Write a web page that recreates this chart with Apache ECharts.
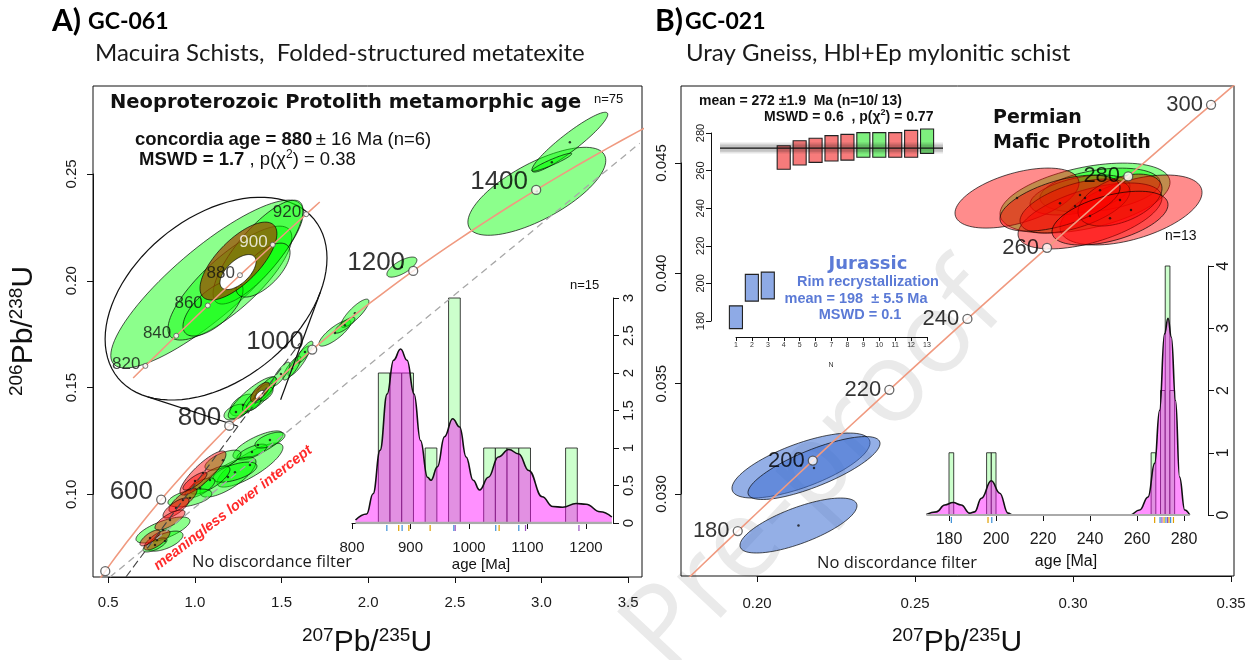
<!DOCTYPE html>
<html>
<head>
<meta charset="utf-8">
<script src="https://cdn.jsdelivr.net/npm/echarts@6.0.0/dist/echarts.min.js"></script>
<style>
html,body{margin:0;padding:0;background:#fff;}
#chart{width:1258px;height:660px;}
</style>
</head>
<body>
<div id="chart"></div>
<script>
// ================= DATA =================
// decay constants (1/yr) used by the concordia curve
const L238 = 1.55125e-10, L235 = 9.8485e-10;

// ---- Panel A (GC-061) ----
const CONC_AGES_A = [380,400,420,440,460,480,500,520,540,560,580,600,620,640,660,680,700,720,740,760,780,800,820,840,860,880,900,920,940,960,980,1000,1020,1040,1060,1080,1100,1120,1140,1160,1180,1200,1220,1240,1260,1280,1300,1320,1340,1360,1380,1400,1420,1440,1460,1480,1500,1520,1540,1560];
const CONC_TICKS_A = [400,600,800,1000,1200,1400];
// error ellipses: [207Pb/235U, 206Pb/238U, half-width x, half-width y, rho, colour code]
// colour code: 0 green, 1 red, 2 blue, 3 brown, 4 white
const ELLIPSES_A = [
  [2.974, 0.2419, 0.398, 0.0206, 0.70, 0],
  [3.1645, 0.2649, 0.219, 0.0140, 0.93, 0],
  [3.0606, 0.2555, 0.115, 0.0042, 0.94, 0],
  [2.195, 0.2064, 0.0866, 0.0047, 0.70, 0],
  [1.8084, 0.1755, 0.0923, 0.0061, 0.82, 0],
  [1.9238, 0.1848, 0.0808, 0.0066, 0.84, 0],
  [1.866, 0.1792, 0.0577, 0.0037, 0.82, 0],
  [1.6007, 0.1624, 0.0635, 0.0070, 0.86, 0],
  [1.5603, 0.1591, 0.052, 0.0056, 0.82, 0],
  [1.6353, 0.1666, 0.046, 0.0051, 0.82, 0],
  [1.4968, 0.1563, 0.052, 0.0056, 0.82, 0],
  [1.2776, 0.1418, 0.075, 0.0051, 0.50, 0],
  [1.2372, 0.1385, 0.069, 0.0037, 0.45, 0],
  [1.318, 0.1137, 0.1904, 0.0103, 0.80, 0],
  [1.3641, 0.1231, 0.1443, 0.0066, 0.75, 0],
  [1.3295, 0.1198, 0.0866, 0.0037, 0.70, 0],
  [1.191, 0.1081, 0.1616, 0.0094, 0.75, 0],
  [1.2314, 0.1104, 0.127, 0.0047, 0.60, 0],
  [1.1621, 0.1160, 0.1039, 0.0047, 0.65, 0],
  [1.4334, 0.1254, 0.0866, 0.0037, 0.60, 0],
  [1.0871, 0.1067, 0.1154, 0.0066, 0.75, 0],
  [1.0294, 0.1030, 0.0866, 0.0047, 0.70, 0],
  [0.9717, 0.0983, 0.127, 0.0042, 0.50, 0],
  [0.8159, 0.0833, 0.1558, 0.0061, 0.70, 0],
  [0.8275, 0.0781, 0.1039, 0.0047, 0.60, 0],
  [0.7698, 0.0763, 0.0692, 0.0033, 0.70, 0],
  [1.0467, 0.1100, 0.1327, 0.0103, 0.85, 1],
  [1.0006, 0.1062, 0.0692, 0.0042, 0.80, 1],
  [0.9313, 0.0973, 0.0808, 0.0056, 0.80, 1],
  [0.891, 0.0936, 0.075, 0.0047, 0.75, 1],
  [0.8563, 0.0880, 0.0866, 0.0047, 0.75, 1],
  [0.7813, 0.0786, 0.075, 0.0047, 0.75, 1],
  [0.7409, 0.0796, 0.0577, 0.0037, 0.75, 1]
];
// the concordant Neoproterozoic group (also shown enlarged)
const ELLIPSES_A_880 = [
  [1.3315, 0.14523, 0.1389, 0.00983, 0.85, 0],
  [1.3645, 0.14534, 0.0894, 0.00667, 0.80, 0],
  [1.4051, 0.14897, 0.0649, 0.00608, 0.80, 0],
  [1.3401, 0.14242, 0.0433, 0.00328, 0.65, 0],
  [1.4123, 0.14686, 0.0390, 0.00316, 0.65, 0],
  [1.3768, 0.14792, 0.0555, 0.00456, 0.70, 3],
  [1.3762, 0.14663, 0.0260, 0.00205, 0.60, 4]
];
const HULL_A = [1.3445, 0.14352, 0.1601, 0.01187, 0.40];
const ZOOM_AGES = [812,820,828,836,844,852,860,868,876,884,892,900,908,916,924,928];
const ZOOM_TICKS = [820,840,860,880,900,920];
const DISC_GREY = [[0.51, 0.0613], [3.568, 0.2644]];
const DISC_DARK = [[0.602, 0.0613], [1.606, 0.1708]];
// inset KDE + histogram (age in Ma)
const HIST_A_START = [845,865,885,925,965,1025,1045,1065,1085,1165];
const HIST_A_COUNT = [2,2,2,1,3,1,1,1,1,1];
const HIST_A_WIDTH = 20;
const KDE_A = [[806,0.04],[825,0.12],[836,0.39],[848,0.97],[860,1.72],[871,2.17],[883,2.32],[894,2.17],[906,1.72],[917,1.10],[929,0.61],[935,0.57],[946,0.75],[958,1.15],[972,1.39],[984,1.28],[995,0.88],[1007,0.57],[1018,0.44],[1033,0.61],[1050,0.88],[1068,0.98],[1085,0.92],[1102,0.70],[1125,0.35],[1143,0.22],[1160,0.21],[1183,0.26],[1200,0.25],[1224,0.15],[1244,0.08]];
const RUG_A = [859.5,879.8,885.6,897.1,933.5,974,976.3,1045.6,1051.4,1085,1096.5,1187.8];
const RUG_A_COLORS = ['#3a8fd8','#e0a000','#3a8fd8','#e0a000','#e0a000','#3a8fd8','#9a50c0','#3a8fd8','#e0a000','#3a8fd8','#9a50c0','#9a50c0'];

// ---- Panel B (GC-021) ----
const CONC_AGES_B = [165,170,175,180,185,190,195,200,205,210,215,220,225,230,235,240,245,250,255,260,265,270,275,280,285,290,295,300,305,310];
const CONC_TICKS_B = [180,200,220,240,260,280,300];
const ELLIPSES_B = [
  [0.21397, 0.031287, 0.02184, 0.001473, 0.70, 2],
  [0.21809, 0.031174, 0.02089, 0.001427, 0.78, 2],
  [0.21318, 0.028568, 0.01851, 0.001246, 0.72, 2],
  [0.30385, 0.04341, 0.0269, 0.001586, 0.45, 0],
  [0.3086, 0.04377, 0.019, 0.000997, 0.35, 0],
  [0.30227, 0.04355, 0.0158, 0.000906, 0.45, 0],
  [0.28233, 0.04341, 0.01962, 0.00136, 0.50, 1],
  [0.31841, 0.04287, 0.02247, 0.001586, 0.50, 1],
  [0.30543, 0.0426, 0.02278, 0.001495, 0.55, 1],
  [0.30068, 0.04305, 0.0174, 0.001224, 0.55, 1],
  [0.31492, 0.04332, 0.01329, 0.001178, 0.45, 1],
  [0.29594, 0.04318, 0.019, 0.00127, 0.55, 1],
  [0.31176, 0.0425, 0.01835, 0.00122, 0.50, 1]
];
// weighted-mean plot (Ma)
const WM_LO = [176.0,190.6,191.8,260.7,263.0,264.4,265.1,265.6,267.1,267.1,267.1,267.1,269.2];
const WM_HI = [188.1,204.8,206.0,273.2,275.9,277.2,278.6,279.3,280.2,280.2,280.2,281.4,282.1];
const WM_COL = [2,2,2,1,1,1,1,1,0,0,1,1,0];
const WM_MEAN = 272, WM_ERR = 1.9, WM_ERR_OUTER = 2.9;
// inset KDE + histogram
const HIST_B_START = [180,196,198,266,270,272,274];
const HIST_B_COUNT = [1,1,1,1,2,4,2];
const HIST_B_WIDTH = 2;
const KDE_B = [[170.4,0.01],[174.6,0.05],[178.2,0.16],[181.7,0.20],[185.2,0.16],[188.8,0.03],[190.9,0.05],[193.8,0.27],[198.0,0.55],[201.6,0.35],[205.1,0.03],[207.2,0],[257,0],[261.1,0.08],[264.7,0.29],[267.5,0.83],[269.6,1.68],[271.7,2.91],[273.2,3.16],[274.6,2.86],[276.4,1.84],[278.1,0.61],[280.3,0.08],[282.4,0]];
const RUG_B = [181,196.6,198.2,267.5,269.8,270.6,271.5,272.3,273,273.6,274.3,275.5];
const RUG_B_COLORS = ['#3a8fd8','#e0a000','#3a8fd8','#e0a000','#3a8fd8','#9a50c0','#e0a000','#3a8fd8','#9a50c0','#e0a000','#3a8fd8','#e0a000'];

// ================= HELPERS =================
const FONT = '"Liberation Sans", Arial, Helvetica, sans-serif';
const NARROW = '"Liberation Sans Narrow", "Liberation Sans", Arial, sans-serif';
const VERD = '"DejaVu Sans", Verdana, sans-serif';
const CAL = 'Lato, "Open Sans", sans-serif';
const FILLS = ['rgba(0,255,0,0.45)','rgba(255,0,0,0.45)','rgba(60,110,210,0.55)','rgba(160,70,0,0.72)','#ffffff'];
const WM_FILLS = ['#7ef07e','#f77b7b','#8eaae6'];

function conc(t) { return [Math.expm1(L235 * t * 1e6), Math.expm1(L238 * t * 1e6)]; }
// enlargement of the 880 Ma group
const MAG_K = 4;
const MAG_FROM = conc(880);
const MAG_TO = [1.2602, 0.20262];
function magnify(x, y) { return [MAG_TO[0] + MAG_K * (x - MAG_FROM[0]), MAG_TO[1] + MAG_K * (y - MAG_FROM[1])]; }

function ellipsePoints(api, x, y, sx, sy, r, tf) {
  const q = Math.sqrt(Math.max(0, 1 - r * r));
  const pts = [];
  for (let i = 0; i < 90; i++) {
    const t = i / 90 * 2 * Math.PI;
    let px = x + sx * Math.cos(t);
    let py = y + sy * (r * Math.cos(t) + q * Math.sin(t));
    if (tf) { const m = tf(px, py); px = m[0]; py = m[1]; }
    pts.push(api.coord([px, py]));
  }
  return pts;
}
function ellipseRenderer(tf) {
  return function (params, api) {
    const pts = ellipsePoints(api, api.value(0), api.value(1), api.value(2), api.value(3), api.value(4), tf);
    return { type: 'polygon', shape: { points: pts }, style: { fill: FILLS[api.value(5)], stroke: 'rgba(0,0,0,0.85)', lineWidth: 0.8 } };
  };
}
function histRenderer(width) {
  return function (params, api) {
    const p0 = api.coord([api.value(0), 0]);
    const p1 = api.coord([api.value(0) + width, api.value(1)]);
    return { type: 'rect', shape: { x: p0[0], y: p1[1], width: p1[0] - p0[0], height: p0[1] - p1[1] },
      style: { fill: '#ccffcc', stroke: '#111', lineWidth: 0.8 } };
  };
}
function rugRenderer(colors) {
  return function (params, api) {
    const p = api.coord([api.value(0), 0]);
    return { type: 'line', shape: { x1: p[0], y1: p[1] + 2, x2: p[0], y2: p[1] + 8 },
      style: { stroke: colors[params.dataIndex % colors.length], lineWidth: 1.2 } };
  };
}
function hiddenAxis(grid, min, max) { return { type: 'value', gridIndex: grid, min: min, max: max, show: false, splitLine: { show: false } }; }
function rAxis(o) {
  return Object.assign({
    type: 'value', splitLine: { show: false },
    axisLine: { show: true, lineStyle: { color: '#111', width: 1 } },
    axisTick: { show: true, length: 6, lineStyle: { color: '#111', width: 1 } },
    axisLabel: { fontFamily: FONT, fontSize: 15, color: '#1a1a1a' }
  }, o);
}
const plain = v => String(v);

// ================= OPTION =================
const option = {
  animation: false,
  backgroundColor: '#fff',
  grid: [
    { left: 93, top: 86, width: 549, height: 491, show: true, borderColor: '#111', borderWidth: 1 },   // 0 A main
    { left: 108.25, top: 174, width: 519.9, height: 320.3 },                                            // 1 A axes
    { left: 349.1, top: 298, width: 263.9, height: 225 },                                               // 2 A inset
    { left: 352, top: 298, width: 234, height: 225 },                                                   // 3 A inset x axis
    { left: 681, top: 86, width: 553, height: 490, show: true, borderColor: '#111', borderWidth: 1 },  // 4 B main
    { left: 757, top: 163, width: 474, height: 331 },                                                   // 5 B axes
    { left: 720, top: 125.5, width: 223, height: 210.6 },                                               // 6 B weighted mean
    { left: 736, top: 133, width: 191, height: 188 },                                                   // 7 B weighted mean axes
    { left: 920.8, top: 266, width: 287.2, height: 249 },                                               // 8 B inset
    { left: 949, top: 266, width: 235, height: 249 }                                                    // 9 B inset x axis
  ],
  xAxis: [
    hiddenAxis(0, 0.412, 3.581),
    rAxis({ gridIndex: 1, min: 0.5, max: 3.5, interval: 0.5, offset: 82.7, axisLabel: { fontFamily: FONT, fontSize: 15, color: '#1a1a1a', margin: 18, formatter: v => v.toFixed(1) } }),
    hiddenAxis(2, 795, 1246),
    rAxis({ gridIndex: 3, min: 800, max: 1200, interval: 100, offset: 10, axisLabel: { fontFamily: FONT, fontSize: 15, color: '#1a1a1a', margin: 7, formatter: plain } }),
    hiddenAxis(4, 0.176, 0.351),
    rAxis({ gridIndex: 5, min: 0.20, max: 0.35, interval: 0.05, offset: 82, axisLabel: { fontFamily: FONT, fontSize: 15, color: '#1a1a1a', margin: 20, formatter: v => v.toFixed(2) } }),
    hiddenAxis(6, 0, 14),
    rAxis({ gridIndex: 7, min: 1, max: 13, interval: 1, offset: 16, axisTick: { length: 4, lineStyle: { color: '#111' } }, axisLabel: { fontFamily: FONT, fontSize: 7, color: '#333', margin: 5, formatter: plain } }),
    hiddenAxis(8, 168, 290.2),
    rAxis({ gridIndex: 9, min: 180, max: 280, interval: 20, offset: 11, axisLabel: { fontFamily: FONT, fontSize: 16, color: '#1a1a1a', margin: 6, formatter: plain } })
  ],
  yAxis: [
    hiddenAxis(0, 0.0613, 0.2912),
    rAxis({ gridIndex: 1, min: 0.10, max: 0.25, interval: 0.05, offset: 15.25, axisLabel: { fontFamily: FONT, fontSize: 15, color: '#1a1a1a', rotate: 90, margin: 14, formatter: v => v.toFixed(2) } }),
    rAxis({ gridIndex: 2, min: 0, max: 3, interval: 0.5, position: 'right', axisLabel: { fontFamily: FONT, fontSize: 15, color: '#1a1a1a', rotate: 90, margin: 8, formatter: plain } }),
    hiddenAxis(3, 0, 1),
    hiddenAxis(4, 0.02628, 0.04849),
    rAxis({ gridIndex: 5, min: 0.030, max: 0.045, interval: 0.005, offset: 76, axisLabel: { fontFamily: FONT, fontSize: 15, color: '#1a1a1a', rotate: 90, margin: 12, formatter: v => v.toFixed(3) } }),
    hiddenAxis(6, 172, 284),
    rAxis({ gridIndex: 7, min: 180, max: 280, interval: 20, offset: 25, axisTick: { length: 5, lineStyle: { color: '#111' } }, axisLabel: { fontFamily: FONT, fontSize: 11, color: '#1a1a1a', rotate: 90, margin: 5, formatter: plain } }),
    rAxis({ gridIndex: 8, min: 0, max: 4, interval: 1, position: 'right', axisLabel: { fontFamily: FONT, fontSize: 16, color: '#1a1a1a', rotate: 90, margin: 8, formatter: plain } }),
    hiddenAxis(9, 0, 1)
  ],
  series: [
    // ---------- Panel A ----------
    { type: 'custom', xAxisIndex: 0, yAxisIndex: 0, z: 2, clip: true, renderItem: ellipseRenderer(null), data: ELLIPSES_A.concat(ELLIPSES_A_880) },
    { type: 'scatter', xAxisIndex: 0, yAxisIndex: 0, z: 3, symbolSize: 2.5, itemStyle: { color: '#111' }, data: ELLIPSES_A.map(e => [e[0], e[1]]) },
    { type: 'line', xAxisIndex: 0, yAxisIndex: 0, z: 4, symbol: 'none', clip: true, lineStyle: { color: '#f09a80', width: 1.6 }, data: CONC_AGES_A.map(conc) },
    { type: 'line', xAxisIndex: 0, yAxisIndex: 0, z: 4, symbol: 'none', lineStyle: { color: '#a8a8a8', width: 1.3, type: [7, 5] }, data: DISC_GREY },
    { type: 'line', xAxisIndex: 0, yAxisIndex: 0, z: 4, symbol: 'none', lineStyle: { color: '#444', width: 1.1, type: [8, 4] }, data: DISC_DARK },
    { type: 'scatter', xAxisIndex: 0, yAxisIndex: 0, z: 5, symbol: 'circle', symbolSize: 9,
      itemStyle: { color: '#fff', borderColor: '#444', borderWidth: 1.3 },
      label: { show: true, position: 'left', distance: 3, offset: [0, -8], fontFamily: FONT, fontSize: 26, color: '#000', formatter: p => p.name },
      data: CONC_TICKS_A.map(t => ({ name: String(t), value: conc(t), label: { show: t >= 600 } })) },
    // enlargement outline
    { type: 'custom', xAxisIndex: 0, yAxisIndex: 0, z: 5, data: [[HULL_A[0], HULL_A[1]]],
      renderItem: function (params, api) {
        const e = HULL_A;
        const pts = ellipsePoints(api, e[0], e[1], e[2], e[3], e[4], magnify);
        const hd = [(MAG_TO[0] - MAG_K * MAG_FROM[0]) / (1 - MAG_K), (MAG_TO[1] - MAG_K * MAG_FROM[1]) / (1 - MAG_K)];
        const H = api.coord(hd);
        const c = api.coord(magnify(e[0], e[1]));
        const base = Math.atan2(c[1] - H[1], c[0] - H[0]);
        let mn = Infinity, mx = -Infinity, pmn = pts[0], pmx = pts[0];
        pts.forEach(p => {
          let a = Math.atan2(p[1] - H[1], p[0] - H[0]) - base;
          while (a > Math.PI) a -= 2 * Math.PI;
          while (a < -Math.PI) a += 2 * Math.PI;
          if (a < mn) { mn = a; pmn = p; }
          if (a > mx) { mx = a; pmx = p; }
        });
        const sm = p => [H[0] + (p[0] - H[0]) / MAG_K, H[1] + (p[1] - H[1]) / MAG_K];
        const a1 = sm(pmn), a2 = sm(pmx);
        return { type: 'group', children: [
          { type: 'polygon', shape: { points: pts }, style: { fill: 'none', stroke: '#111', lineWidth: 1.2 } },
          { type: 'line', shape: { x1: pmn[0], y1: pmn[1], x2: a1[0], y2: a1[1] }, style: { stroke: '#111', lineWidth: 1.2 } },
          { type: 'line', shape: { x1: pmx[0], y1: pmx[1], x2: a2[0], y2: a2[1] }, style: { stroke: '#111', lineWidth: 1.2 } }
        ] };
      } },
    { type: 'custom', xAxisIndex: 0, yAxisIndex: 0, z: 6, renderItem: ellipseRenderer(magnify), data: ELLIPSES_A_880 },
    { type: 'line', xAxisIndex: 0, yAxisIndex: 0, z: 7, symbol: 'none', lineStyle: { color: '#f09a80', width: 1.5 },
      data: ZOOM_AGES.map(t => { const p = conc(t); return magnify(p[0], p[1]); }) },
    { type: 'scatter', xAxisIndex: 0, yAxisIndex: 0, z: 8, symbol: 'circle', symbolSize: 5,
      itemStyle: { color: '#fff', borderColor: '#555', borderWidth: 1 },
      label: { show: true, position: 'left', distance: 2, offset: [0, -2], fontFamily: FONT, fontSize: 17, color: '#111', formatter: p => p.name },
      data: ZOOM_TICKS.map(t => { const p = conc(t); return { name: String(t), value: magnify(p[0], p[1]), label: t === 900 ? { color: '#fff' } : {} }; }) },
    // inset A
    { type: 'custom', xAxisIndex: 2, yAxisIndex: 2, z: 2, renderItem: histRenderer(HIST_A_WIDTH), data: HIST_A_START.map((s, i) => [s, HIST_A_COUNT[i]]) },
    { type: 'line', xAxisIndex: 2, yAxisIndex: 2, z: 3, symbol: 'none', smooth: 0.45, smoothMonotone: 'x',
      lineStyle: { color: '#111', width: 1.6 }, areaStyle: { color: 'rgba(255,0,255,0.62)', origin: 'start' }, data: KDE_A },
    { type: 'line', xAxisIndex: 2, yAxisIndex: 2, z: 4, symbol: 'none', lineStyle: { color: '#aaa', width: 2.5 }, data: [[KDE_A[0][0], 0], [KDE_A[KDE_A.length - 1][0], 0]] },
    { type: 'custom', xAxisIndex: 2, yAxisIndex: 2, z: 4, renderItem: rugRenderer(RUG_A_COLORS), data: RUG_A.map(a => [a, 0]) },

    // ---------- Panel B ----------
    { type: 'custom', xAxisIndex: 4, yAxisIndex: 4, z: 2, clip: true, renderItem: ellipseRenderer(null), data: ELLIPSES_B },
    { type: 'scatter', xAxisIndex: 4, yAxisIndex: 4, z: 3, symbolSize: 2.5, itemStyle: { color: '#111' }, data: ELLIPSES_B.map(e => [e[0], e[1]]) },
    { type: 'line', xAxisIndex: 4, yAxisIndex: 4, z: 4, symbol: 'none', clip: true, lineStyle: { color: '#f09a80', width: 1.6 }, data: CONC_AGES_B.map(conc) },
    { type: 'scatter', xAxisIndex: 4, yAxisIndex: 4, z: 5, symbol: 'circle', symbolSize: 9,
      itemStyle: { color: '#fff', borderColor: '#444', borderWidth: 1.3 },
      label: { show: true, position: 'left', distance: 3, offset: [0, 0], fontFamily: FONT, fontSize: 22, color: '#000', formatter: p => p.name },
      data: CONC_TICKS_B.map(t => ({ name: String(t), value: conc(t) })) },
    // weighted mean
    { type: 'custom', xAxisIndex: 6, yAxisIndex: 6, z: 2, data: WM_LO.map((lo, i) => [i + 1, lo, WM_HI[i], WM_COL[i]]),
      renderItem: function (params, api) {
        const a = api.coord([api.value(0) - 0.41, api.value(2)]);
        const b = api.coord([api.value(0) + 0.41, api.value(1)]);
        return { type: 'rect', shape: { x: a[0], y: a[1], width: b[0] - a[0], height: b[1] - a[1] },
          style: { fill: WM_FILLS[api.value(3)], stroke: '#222', lineWidth: 1.1 } };
      } },
    { type: 'custom', xAxisIndex: 6, yAxisIndex: 6, z: 3, data: [[WM_MEAN, WM_ERR, WM_ERR_OUTER]],
      renderItem: function (params, api) {
        const m = api.value(0), e1 = api.value(1), e2 = api.value(2);
        const o1 = api.coord([0, m + e2]), o2 = api.coord([14, m - e2]);
        const i1 = api.coord([0, m + e1]), i2 = api.coord([14, m - e1]);
        const l1 = api.coord([0, m]), l2 = api.coord([14, m]);
        return { type: 'group', children: [
          { type: 'rect', shape: { x: o1[0], y: o1[1], width: o2[0] - o1[0], height: o2[1] - o1[1] }, style: { fill: 'rgba(0,0,0,0.10)' } },
          { type: 'rect', shape: { x: i1[0], y: i1[1], width: i2[0] - i1[0], height: i2[1] - i1[1] }, style: { fill: 'rgba(0,0,0,0.14)' } },
          { type: 'line', shape: { x1: l1[0], y1: l1[1], x2: l2[0], y2: l2[1] }, style: { stroke: '#111', lineWidth: 1.3 } }
        ] };
      } },
    // inset B
    { type: 'custom', xAxisIndex: 8, yAxisIndex: 8, z: 2, renderItem: histRenderer(HIST_B_WIDTH), data: HIST_B_START.map((s, i) => [s, HIST_B_COUNT[i]]) },
    { type: 'line', xAxisIndex: 8, yAxisIndex: 8, z: 3, symbol: 'none', smooth: 0.45, smoothMonotone: 'x',
      lineStyle: { color: '#111', width: 1.6 }, areaStyle: { color: 'rgba(255,0,255,0.62)', origin: 'start' }, data: KDE_B },
    { type: 'line', xAxisIndex: 8, yAxisIndex: 8, z: 4, symbol: 'none', lineStyle: { color: '#aaa', width: 2 }, data: [[KDE_B[0][0], 0], [KDE_B[KDE_B.length - 1][0], 0]] },
    { type: 'custom', xAxisIndex: 8, yAxisIndex: 8, z: 4, renderItem: rugRenderer(RUG_B_COLORS), data: RUG_B.map(a => [a, 0]) }
  ],
  graphic: { elements: [
    // watermark
    { type: 'text', x: 815, y: 470, rotation: 0.82, z: -10, silent: true,
      style: { text: 'Pre-proof', fontFamily: '"Open Sans", sans-serif', fontSize: 112, fill: '#eaeaea', align: 'center', verticalAlign: 'middle' } },
    // panel titles
    { type: 'text', x: 52, y: 21, style: { text: 'A)', fontFamily: CAL, fontWeight: 'bold', fontSize: 30, fill: '#000', align: 'left', verticalAlign: 'middle' } },
    { type: 'text', x: 88, y: 22, style: { text: 'GC-061', fontFamily: CAL, fontWeight: 'bold', fontSize: 23, fill: '#000', align: 'left', verticalAlign: 'middle' } },
    { type: 'text', x: 95, y: 53, style: { text: 'Macuira Schists,  Folded-structured metatexite', fontFamily: CAL, fontSize: 24, fill: '#1a1a1a', align: 'left', verticalAlign: 'middle' } },
    { type: 'text', x: 655, y: 21, style: { text: 'B)', fontFamily: CAL, fontWeight: 'bold', fontSize: 30, fill: '#000', align: 'left', verticalAlign: 'middle' } },
    { type: 'text', x: 685, y: 22, style: { text: 'GC-021', fontFamily: CAL, fontWeight: 'bold', fontSize: 23, fill: '#000', align: 'left', verticalAlign: 'middle' } },
    { type: 'text', x: 686, y: 53, style: { text: 'Uray Gneiss, Hbl+Ep mylonitic schist', fontFamily: CAL, fontSize: 24, fill: '#1a1a1a', align: 'left', verticalAlign: 'middle' } },
    // axis titles
    { type: 'text', x: 367, y: 643, style: { text: '{s|207}{b|Pb/}{s|235}{b|U}', align: 'center', verticalAlign: 'middle',
      rich: { s: { fontFamily: FONT, fontSize: 19, fill: '#111', verticalAlign: 'top', lineHeight: 19 }, b: { fontFamily: FONT, fontSize: 30, fill: '#111', lineHeight: 34 } } } },
    { type: 'text', x: 957, y: 643, style: { text: '{s|207}{b|Pb/}{s|235}{b|U}', align: 'center', verticalAlign: 'middle',
      rich: { s: { fontFamily: FONT, fontSize: 19, fill: '#111', verticalAlign: 'top', lineHeight: 19 }, b: { fontFamily: FONT, fontSize: 30, fill: '#111', lineHeight: 34 } } } },
    { type: 'text', x: 24, y: 331, rotation: Math.PI / 2, style: { text: '{s|206}{b|Pb/}{s|238}{b|U}', align: 'center', verticalAlign: 'middle',
      rich: { s: { fontFamily: FONT, fontSize: 19, fill: '#111', verticalAlign: 'top', lineHeight: 19 }, b: { fontFamily: FONT, fontSize: 30, fill: '#111', lineHeight: 34 } } } },
    // panel A annotations
    { type: 'text', x: 110, y: 103, style: { text: 'Neoproterozoic Protolith metamorphic age', fontFamily: VERD, fontWeight: 'bold', fontSize: 19.5, fill: '#111', align: 'left', verticalAlign: 'middle' } },
    { type: 'text', x: 594, y: 99, style: { text: 'n=75', fontFamily: FONT, fontSize: 13, fill: '#111', align: 'left', verticalAlign: 'middle' } },
    { type: 'text', x: 135, y: 140, style: { text: '{b|concordia age = 880} {n|± 16 Ma (n=6)}', align: 'left', verticalAlign: 'middle',
      rich: { b: { fontFamily: NARROW, fontWeight: 'bold', fontSize: 18.5, fill: '#111' }, n: { fontFamily: NARROW, fontSize: 18.5, fill: '#111' } } } },
    { type: 'text', x: 139, y: 160, style: { text: '{b|MSWD = 1.7}{n| , p(χ}{p|2}{n|) = 0.38}', align: 'left', verticalAlign: 'middle',
      rich: { b: { fontFamily: NARROW, fontWeight: 'bold', fontSize: 18.5, fill: '#111', lineHeight: 22 }, n: { fontFamily: NARROW, fontSize: 18.5, fill: '#111', lineHeight: 22 }, p: { fontFamily: NARROW, fontSize: 12, fill: '#111', verticalAlign: 'top', lineHeight: 12 } } } },
    { type: 'text', x: 233, y: 508, rotation: 0.655, style: { text: 'meaningless lower intercept', fontFamily: FONT, fontWeight: 'bold', fontStyle: 'italic', fontSize: 14.5, fill: '#ff2a2a', align: 'center', verticalAlign: 'middle' } },
    { type: 'text', x: 192, y: 562, style: { text: 'No discordance filter', fontFamily: '"Open Sans", sans-serif', fontSize: 16.5, fill: '#1a1a1a', align: 'left', verticalAlign: 'middle' } },
    { type: 'text', x: 570, y: 285, style: { text: 'n=15', fontFamily: FONT, fontSize: 13, fill: '#111', align: 'left', verticalAlign: 'middle' } },
    { type: 'text', x: 481, y: 565, style: { text: 'age [Ma]', fontFamily: FONT, fontSize: 15, fill: '#111', align: 'center', verticalAlign: 'middle' } },
    // panel B annotations
    { type: 'text', x: 699, y: 101, style: { text: 'mean = 272 ±1.9  Ma (n=10/ 13)', fontFamily: NARROW, fontWeight: 'bold', fontSize: 14, fill: '#111', align: 'left', verticalAlign: 'middle' } },
    { type: 'text', x: 764, y: 117, style: { text: '{n|MSWD = 0.6  , p(χ}{p|2}{n|) = 0.77}', align: 'left', verticalAlign: 'middle',
      rich: { n: { fontFamily: NARROW, fontWeight: 'bold', fontSize: 14, fill: '#111', lineHeight: 17 }, p: { fontFamily: NARROW, fontWeight: 'bold', fontSize: 9, fill: '#111', verticalAlign: 'top', lineHeight: 9 } } } },
    { type: 'text', x: 993, y: 118, style: { text: 'Permian', fontFamily: VERD, fontWeight: 'bold', fontSize: 19, fill: '#111', align: 'left', verticalAlign: 'middle' } },
    { type: 'text', x: 993, y: 143, style: { text: 'Mafic Protolith', fontFamily: VERD, fontWeight: 'bold', fontSize: 19, fill: '#111', align: 'left', verticalAlign: 'middle' } },
    { type: 'text', x: 1165, y: 236, style: { text: 'n=13', fontFamily: FONT, fontSize: 14, fill: '#111', align: 'left', verticalAlign: 'middle' } },
    { type: 'text', x: 868, y: 264, style: { text: 'Jurassic', fontFamily: VERD, fontWeight: 'bold', fontSize: 18, fill: '#5b7ad6', align: 'center', verticalAlign: 'middle' } },
    { type: 'text', x: 868, y: 282, style: { text: 'Rim recrystallization', fontFamily: FONT, fontWeight: 'bold', fontSize: 14.5, fill: '#5b7ad6', align: 'center', verticalAlign: 'middle' } },
    { type: 'text', x: 856, y: 299, style: { text: 'mean = 198  ± 5.5 Ma', fontFamily: FONT, fontWeight: 'bold', fontSize: 14.5, fill: '#5b7ad6', align: 'center', verticalAlign: 'middle' } },
    { type: 'text', x: 860, y: 315, style: { text: 'MSWD = 0.1', fontFamily: FONT, fontWeight: 'bold', fontSize: 14.5, fill: '#5b7ad6', align: 'center', verticalAlign: 'middle' } },
    { type: 'text', x: 831, y: 365, style: { text: 'N', fontFamily: FONT, fontSize: 7, fill: '#333', align: 'center', verticalAlign: 'middle' } },
    { type: 'text', x: 817, y: 563, style: { text: 'No discordance filter', fontFamily: '"Open Sans", sans-serif', fontSize: 16.5, fill: '#1a1a1a', align: 'left', verticalAlign: 'middle' } },
    { type: 'text', x: 1066, y: 562, style: { text: 'age [Ma]', fontFamily: FONT, fontSize: 16, fill: '#111', align: 'center', verticalAlign: 'middle' } }
  ] }
};

const chart = echarts.init(document.getElementById('chart'), null, { renderer: 'canvas', width: 1258, height: 660 });
chart.setOption(option);
</script>
</body>
</html>
